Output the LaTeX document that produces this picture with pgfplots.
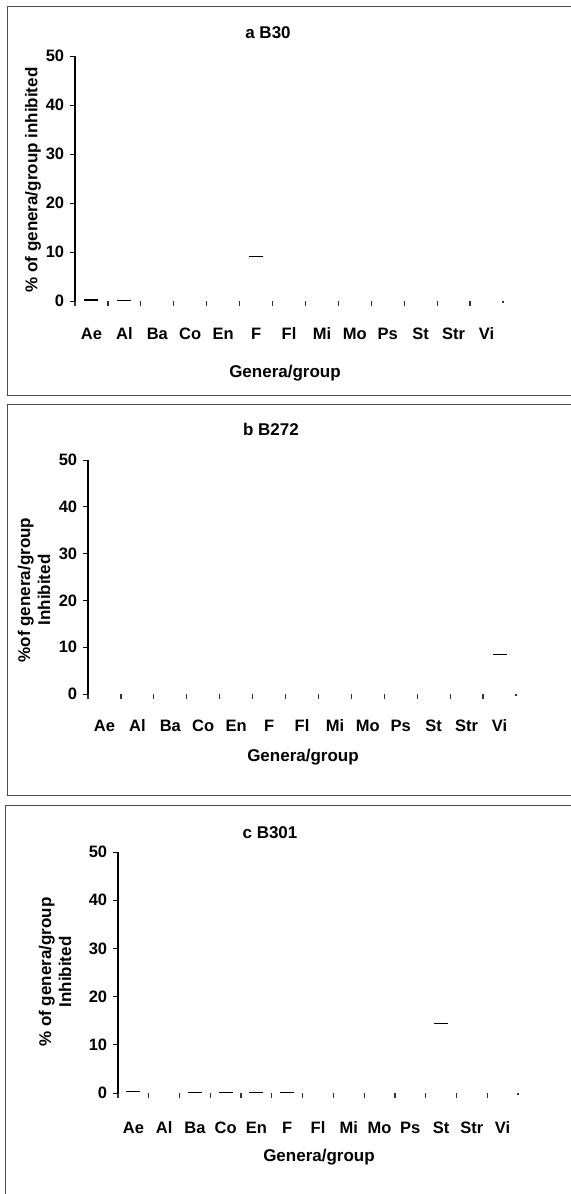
\documentclass[border=0pt]{standalone}
\usepackage{fontspec}
\setmainfont{Liberation Sans}
\usepackage{pgfplots}
\pgfplotsset{compat=1.18}
\pgfplotsset{
 panel/.style={
  scale only axis, xmin=0, xmax=13, ymin=0, ymax=50,
  axis x line=bottom, axis y line=left,
  x axis line style={draw=none},
  y axis line style={-, line width=1.1bp, black},
  xtick={0,1,...,13},
  x tick label as interval,
  xticklabels={Ae,Al,Ba,Co,En,F,Fl,Mi,Mo,Ps,St,Str,Vi},
  x tick style={line width=1.2bp, black!80, shorten <=3.2bp},
  ytick={0,10,...,50},
  y tick style={line width=0.8bp, black},
  tick align=outside, major tick length=5bp,
  tick label style={font=\bfseries\fontsize{16.5bp}{20bp}\selectfont},
  /pgf/number format/assume math mode=true,
  clip=false,
 },
 barmark/.style={only marks, mark=-, mark size=7bp, mark options={line width=1.1bp}, black},
}
\begin{document}
\fontsize{17bp}{20bp}\selectfont
\begin{tikzpicture}
\useasboundingbox (0,0) rectangle (571bp,-1194bp);
% panel boxes
\draw[line width=1bp, black!70] (7bp,-6bp) rectangle (590bp,-395bp);
\draw[line width=1bp, black!70] (7bp,-404bp) rectangle (590bp,-795bp);
\draw[line width=1bp, black!70] (5bp,-1210bp) -- (5bp,-805bp) -- (590bp,-805bp);

% ---------- panel a
\begin{axis}[panel, at={(75bp,-301bp)}, anchor=south west,
  width=428bp, height=245bp,
  xticklabel style={anchor=base, yshift=-33bp}]
\addplot[barmark] coordinates {(0.5,0.2) (1.5,0.1) (5.5,9)};
\end{axis}
\node[font=\bfseries] at (268bp,-33bp) {a B30};
\node[font=\bfseries] at (285bp,-373bp) {Genera/group};
\node[font=\bfseries, rotate=90] at (33bp,-180bp) {\% of genera/group inhibited};

% ---------- panel b
\begin{axis}[panel, at={(88bp,-694bp)}, anchor=south west,
  width=428bp, height=234bp,
  xticklabel style={anchor=base, yshift=-32bp}]
\addplot[barmark] coordinates {(12.5,8.5)};
\end{axis}
\node[font=\bfseries] at (271bp,-429bp) {b B272};
\node[font=\bfseries] at (303bp,-757bp) {Genera/group};
\node[font=\bfseries, rotate=90, align=center] at (34bp,-590bp) {\%of genera/group\\Inhibited};

% ---------- panel c
\begin{axis}[panel, at={(118bp,-1093bp)}, anchor=south west,
  width=400bp, height=241bp,
  xticklabel style={anchor=base, yshift=-35bp}]
\addplot[barmark] coordinates {(0.5,0.3) (2.5,0.2) (3.5,0.1) (4.5,0.1) (5.5,0.1) (10.5,14.5)};
\end{axis}
\node[font=\bfseries] at (270bp,-833bp) {c B301};
\node[font=\bfseries] at (319bp,-1157bp) {Genera/group};
\node[font=\bfseries, rotate=90, align=center] at (55bp,-972bp) {\% of genera/group\\Inhibited};
\end{tikzpicture}
\end{document}
